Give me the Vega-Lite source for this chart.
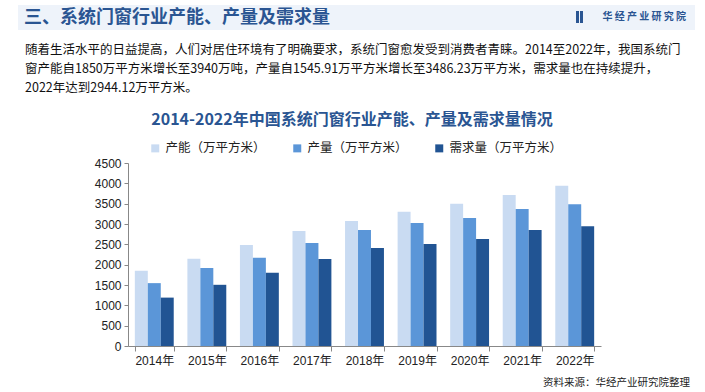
{
  "$schema": "https://vega.github.io/schema/vega-lite/v6.json",
  "width": 473,
  "height": 183,
  "autosize": {"type": "none"},
  "padding": {"left": 128, "top": 163, "right": 104, "bottom": 46},
  "background": "#ffffff",
  "config": {"view": {"stroke": null}, "font": "Liberation Sans, Noto Sans CJK SC"},
  "layer": [
    {
      "data": {"values": [{}]},
      "mark": {"type": "rect", "x": -110, "x2": 567, "y": -158, "y2": -133, "color": "#EEF3FA"}
    },
    {
      "data": {"values": [{}]},
      "mark": {"type": "rect", "x": 448, "x2": 451, "y": -152, "y2": -140, "color": "#2A5592"}
    },
    {
      "data": {"values": [{}]},
      "mark": {"type": "rect", "x": 452, "x2": 455, "y": -152, "y2": -140, "color": "#2A5592"}
    },
    {
      "data": {"values": [{}]},
      "mark": {"type": "text", "x": -104, "y": -145, "align": "left", "baseline": "middle", "text": "三、系统门窗行业产能、产量及需求量", "font": "Noto Sans CJK SC", "fontWeight": "bold", "fontSize": 18, "color": "#2A5592"}
    },
    {
      "data": {"values": [{}]},
      "mark": {"type": "text", "x": 558, "y": -146, "align": "right", "baseline": "middle", "text": "华 经 产 业 研 究 院", "font": "Noto Sans CJK SC", "fontWeight": "bold", "fontSize": 10, "color": "#2A5592"}
    },
    {
      "data": {"values": [{}]},
      "mark": {"type": "text", "x": -103, "y": -113, "align": "left", "baseline": "middle", "text": "随着生活水平的日益提高，人们对居住环境有了明确要求，系统门窗愈发受到消费者青睐。2014至2022年，我国系统门", "font": "Noto Sans CJK SC", "fontSize": 12.5, "color": "#111111"}
    },
    {
      "data": {"values": [{}]},
      "mark": {"type": "text", "x": -103, "y": -94, "align": "left", "baseline": "middle", "text": "窗产能自1850万平方米增长至3940万吨，产量自1545.91万平方米增长至3486.23万平方米，需求量也在持续提升，", "font": "Noto Sans CJK SC", "fontSize": 12.5, "color": "#111111"}
    },
    {
      "data": {"values": [{}]},
      "mark": {"type": "text", "x": -103, "y": -75, "align": "left", "baseline": "middle", "text": "2022年达到2944.12万平方米。", "font": "Noto Sans CJK SC", "fontSize": 12.5, "color": "#111111"}
    },
    {
      "data": {"values": [{}]},
      "mark": {"type": "text", "x": 224, "y": -43, "align": "center", "baseline": "middle", "text": "2014-2022年中国系统门窗行业产能、产量及需求量情况", "font": "Noto Sans CJK SC", "fontWeight": "bold", "fontSize": 16, "color": "#2A5592"}
    },
    {
      "data": {"values": [{}]},
      "mark": {"type": "text", "x": 562, "y": 220, "align": "right", "baseline": "middle", "text": "资料来源：华经产业研究院整理", "font": "Noto Sans CJK SC", "fontSize": 10.5, "color": "#222222"}
    },
    {
      "data": {
        "values": [
          {"year": "2014年", "series": "产能（万平方米）", "value": 1850},
          {"year": "2014年", "series": "产量（万平方米）", "value": 1545.91},
          {"year": "2014年", "series": "需求量（万平方米）", "value": 1190},
          {"year": "2015年", "series": "产能（万平方米）", "value": 2145},
          {"year": "2015年", "series": "产量（万平方米）", "value": 1920},
          {"year": "2015年", "series": "需求量（万平方米）", "value": 1505},
          {"year": "2016年", "series": "产能（万平方米）", "value": 2485},
          {"year": "2016年", "series": "产量（万平方米）", "value": 2168},
          {"year": "2016年", "series": "需求量（万平方米）", "value": 1800},
          {"year": "2017年", "series": "产能（万平方米）", "value": 2830},
          {"year": "2017年", "series": "产量（万平方米）", "value": 2535},
          {"year": "2017年", "series": "需求量（万平方米）", "value": 2140},
          {"year": "2018年", "series": "产能（万平方米）", "value": 3075},
          {"year": "2018年", "series": "产量（万平方米）", "value": 2855},
          {"year": "2018年", "series": "需求量（万平方米）", "value": 2410},
          {"year": "2019年", "series": "产能（万平方米）", "value": 3300},
          {"year": "2019年", "series": "产量（万平方米）", "value": 3025},
          {"year": "2019年", "series": "需求量（万平方米）", "value": 2508},
          {"year": "2020年", "series": "产能（万平方米）", "value": 3495},
          {"year": "2020年", "series": "产量（万平方米）", "value": 3150},
          {"year": "2020年", "series": "需求量（万平方米）", "value": 2630},
          {"year": "2021年", "series": "产能（万平方米）", "value": 3715},
          {"year": "2021年", "series": "产量（万平方米）", "value": 3370},
          {"year": "2021年", "series": "需求量（万平方米）", "value": 2852},
          {"year": "2022年", "series": "产能（万平方米）", "value": 3940},
          {"year": "2022年", "series": "产量（万平方米）", "value": 3486.23},
          {"year": "2022年", "series": "需求量（万平方米）", "value": 2944.12}
        ]
      },
      "mark": {"type": "bar"},
      "encoding": {
        "x": {
          "field": "year", "type": "nominal", "sort": null,
          "scale": {"paddingInner": 0.26, "paddingOuter": 0.13},
          "axis": {"title": null, "labelAngle": 0, "labelFontSize": 12, "labelColor": "#222222", "labelPadding": 4, "tickBand": "extent", "tickSize": 5, "tickColor": "#888888", "domainColor": "#888888", "labelFont": "Liberation Sans, Noto Sans CJK SC"}
        },
        "xOffset": {"field": "series", "type": "nominal", "sort": ["产能（万平方米）", "产量（万平方米）", "需求量（万平方米）"], "scale": {"paddingInner": 0, "paddingOuter": 0}},
        "y": {
          "field": "value", "type": "quantitative",
          "scale": {"domain": [0, 4500], "nice": false},
          "axis": {"title": null, "format": "d", "values": [0, 500, 1000, 1500, 2000, 2500, 3000, 3500, 4000, 4500], "grid": false, "labelFontSize": 12, "labelColor": "#222222", "tickSize": 4, "tickColor": "#888888", "domainColor": "#888888", "labelPadding": 3, "labelFont": "Liberation Sans"}
        },
        "color": {
          "field": "series", "type": "nominal",
          "sort": ["产能（万平方米）", "产量（万平方米）", "需求量（万平方米）"],
          "scale": {"domain": ["产能（万平方米）", "产量（万平方米）", "需求量（万平方米）"], "range": ["#C9DBF2", "#5B96D8", "#215493"]},
          "legend": {"title": null, "orient": "none", "legendX": 21, "legendY": -21, "direction": "horizontal", "gridAlign": "all", "symbolType": "square", "symbolSize": 64, "symbolStrokeWidth": 0, "labelFontSize": 12.5, "labelFont": "Noto Sans CJK SC", "labelColor": "#222222", "columnPadding": 12, "labelOffset": 4, "padding": 0, "labelLimit": 200}
        }
      }
    }
  ]
}
